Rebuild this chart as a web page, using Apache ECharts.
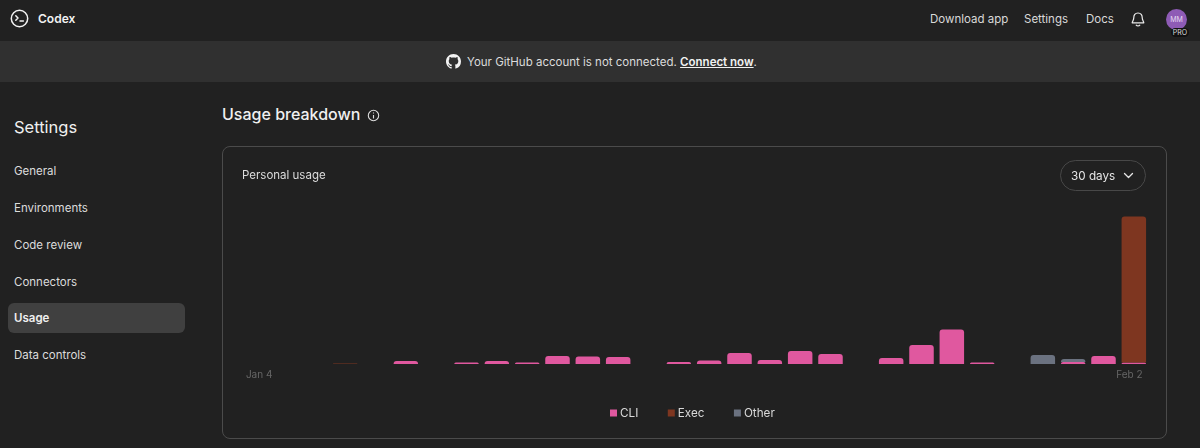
<!DOCTYPE html>
<html>
<head>
<meta charset="utf-8">
<title>Codex usage</title>
<script src="https://cdn.jsdelivr.net/npm/echarts@6/dist/echarts.min.js"></script>
<style>
html, body { margin: 0; width: 1200px; height: 448px; overflow: hidden; background: #212121; color: #ececec; font-family: Inter, "Noto Sans", sans-serif; }
.abs { position: absolute; white-space: nowrap; line-height: 1; }
#banner { position: absolute; left: 0; top: 41px; width: 1200px; height: 41px; background: #303030; }
#card { position: absolute; left: 222px; top: 146px; width: 943px; height: 291px; border: 1px solid #4b4b4b; border-radius: 8px; }
#active { position: absolute; left: 8px; top: 303px; width: 177px; height: 30px; background: #404040; border-radius: 6px; }
#chart { position: absolute; left: 0; top: 0; width: 1200px; height: 448px; }
#range { position: absolute; left: 1060px; top: 160px; width: 84px; height: 29px; border: 1px solid #484848; border-radius: 16px; z-index: 2; }
.nav { font-size: 11.5px; color: #d9d9d9; }
.side { font-size: 11.5px; color: #dcdcdc; left: 14px; }
</style>
</head>
<body>
<div id="banner"></div>
<div id="active"></div>
<div id="card"></div>

<svg class="abs" style="left:10px;top:9px" width="19" height="19" viewBox="0 0 19 19" fill="none" stroke="#f2f2f2" stroke-width="1.5">
	<circle cx="9.5" cy="9.5" r="8.2"/>
	<path d="M5.8 6.8 L8 9 L5.8 11.2 M10 12 H13.4" stroke-linecap="round" stroke-linejoin="round"/>
</svg>
<div class="abs" style="left:38px;top:13px;font-size:12px;font-weight:600;color:#f2f2f2">Codex</div>

<div class="abs nav" style="left:930px;top:14px">Download app</div>
<div class="abs nav" style="left:1024px;top:14px">Settings</div>
<div class="abs nav" style="left:1086px;top:14px">Docs</div>
<svg class="abs" style="left:1131px;top:12px" width="14" height="15" viewBox="0 0 14 15" fill="none" stroke="#ececec" stroke-width="1.2">
	<path d="M7 1 C4 1 2.8 3.2 2.8 5.6 C2.8 8.4 1.2 9.6 1.2 10.8 H12.8 C12.8 9.6 11.2 8.4 11.2 5.6 C11.2 3.2 10 1 7 1 Z" stroke-linejoin="round"/>
	<path d="M5.2 13.2 C6 14.2 8 14.2 8.8 13.2" stroke-linecap="round"/>
</svg>
<div class="abs" style="left:1166px;top:9px;width:21px;height:21px;border-radius:50%;background:#8e5bb5;color:#e6d8f0;font-size:7px;line-height:21px;text-align:center">MM</div>
<div class="abs" style="left:1171px;top:28px;width:18px;height:9px;border-radius:5px;background:#111;color:#ddd;font-size:7px;line-height:9px;text-align:center">PRO</div>

<svg class="abs" style="left:446px;top:54px" width="15" height="15" viewBox="0 0 16 16" fill="#f2f2f2">
	<path d="M8 0C3.58 0 0 3.58 0 8c0 3.54 2.29 6.53 5.47 7.59.4.07.55-.17.55-.38 0-.19-.01-.82-.01-1.49-2.01.37-2.53-.49-2.69-.94-.09-.23-.48-.94-.82-1.13-.28-.15-.68-.52-.01-.53.63-.01 1.08.58 1.23.82.72 1.21 1.87.87 2.33.66.07-.52.28-.87.51-1.07-1.78-.2-3.64-.89-3.64-3.95 0-.87.31-1.59.82-2.15-.08-.2-.36-1.02.08-2.12 0 0 .67-.21 2.2.82.64-.18 1.32-.27 2-.27s1.36.09 2 .27c1.53-1.04 2.2-.82 2.2-.82.44 1.1.16 1.92.08 2.12.51.56.82 1.27.82 2.15 0 3.07-1.87 3.75-3.65 3.95.29.25.54.73.54 1.48 0 1.07-.01 1.93-.01 2.2 0 .21.15.46.55.38A8.01 8.01 0 0 0 16 8c0-4.42-3.58-8-8-8z"/>
</svg>
<div class="abs" style="left:467px;top:57px;font-size:11.5px;color:#dcdcdc">Your GitHub account is not connected. <span style="font-weight:600;color:#f2f2f2;text-decoration:underline">Connect now</span>.</div>

<div class="abs" style="left:14px;top:119px;font-size:16.5px;color:#f0f0f0">Settings</div>
<div class="abs side" style="top:166px">General</div>
<div class="abs side" style="top:203px">Environments</div>
<div class="abs side" style="top:240px">Code review</div>
<div class="abs side" style="top:277px">Connectors</div>
<div class="abs side" style="top:313px;font-weight:600;color:#f0f0f0">Usage</div>
<div class="abs side" style="top:350px">Data controls</div>

<div class="abs" style="left:222px;top:106px;font-size:16px;font-weight:500;color:#f0f0f0">Usage breakdown</div>
<svg class="abs" style="left:367px;top:109px" width="13" height="13" viewBox="0 0 13 13" fill="none" stroke="#dcdcdc" stroke-width="1.1">
	<circle cx="6.5" cy="6.5" r="5.2"/>
	<path d="M6.5 6 V9.4 M6.5 3.6 V4.5"/>
</svg>

<div id="range">
	<div class="abs" style="left:10px;top:10px;font-size:11.7px;color:#e6e6e6">30 days</div>
	<svg class="abs" style="left:62px;top:11px" width="11" height="8" viewBox="0 0 11 8" fill="none" stroke="#e6e6e6" stroke-width="1.3">
		<path d="M1.5 1.5 L5.5 5.5 L9.5 1.5" stroke-linecap="round" stroke-linejoin="round"/>
	</svg>
</div>

<div id="chart"></div>

<script>
const days = [
	'Jan 4', 'Jan 5', 'Jan 6', 'Jan 7', 'Jan 8', 'Jan 9', 'Jan 10', 'Jan 11', 'Jan 12', 'Jan 13',
	'Jan 14', 'Jan 15', 'Jan 16', 'Jan 17', 'Jan 18', 'Jan 19', 'Jan 20', 'Jan 21', 'Jan 22', 'Jan 23',
	'Jan 24', 'Jan 25', 'Jan 26', 'Jan 27', 'Jan 28', 'Jan 29', 'Jan 30', 'Jan 31', 'Feb 1', 'Feb 2'
];
// values, unit is arbitrary (no y axis shown)
const cliUsage = [0, 0, 0, 0, 0, 3, 0, 1.5, 3, 1.5, 8, 7.5, 7, 0, 2, 3.5, 11, 4, 13, 10, 0, 6, 19, 34.5, 1.5, 0, 0, 2, 8, 1.5];
const execUsage = [0, 0, 0, 0.5, 0, 0, 0, 0, 0, 0, 0, 0, 0, 0, 0, 0, 0, 0, 0, 0, 0, 0, 0, 0, 0, 0, 0, 0, 0, 146];
const otherUsage = [0, 0, 0, 0, 0, 0, 0, 0, 0, 0, 0, 0, 0, 0, 0, 0, 0, 0, 0, 0, 0, 0, 0, 0, 0, 0, 9, 3, 0, 0];

const chartInstance = echarts.init(document.getElementById('chart'));

const makeSeries = (name, data, color) => ({
	name: name,
	type: 'bar',
	stack: 'usage',
	data: data,
	barWidth: 24.5,
	itemStyle: { color: color, borderRadius: [3, 3, 0, 0] }
});

chartInstance.setOption({
	animation: false,
	backgroundColor: 'transparent',
	textStyle: { fontFamily: 'Inter' },
	title: {
		text: 'Personal usage',
		left: 237,
		top: 165,
		textStyle: { color: '#dcdcdc', fontSize: 11.5, fontWeight: 400, fontFamily: 'Inter' }
	},
	legend: {
		left: 605,
		top: 402,
		icon: 'rect',
		itemWidth: 7,
		itemHeight: 7,
		itemGap: 29.5,
		textStyle: { color: '#d9d9d9', fontSize: 11.7, padding: [0, 0, 0, -2] }
	},
	tooltip: { trigger: 'axis', axisPointer: { type: 'none' } },
	grid: { left: 239, right: 51, top: 204, bottom: 84 },
	xAxis: {
		type: 'category',
		data: days,
		axisLine: { show: false },
		axisTick: { show: false },
		axisLabel: {
			// only first and last day are labelled
			interval: (index) => index === 0 || index === days.length - 1,
			margin: 6,
			color: '#666666',
			fontSize: 10,
			formatter: (value) => (value === days[0] ? '{first|' + value + '}' : '{last|' + value + '}'),
			rich: {
				first: { color: '#666666', fontSize: 10, padding: [0, 0, 0, 10] },
				last: { color: '#666666', fontSize: 10, padding: [0, 9, 0, 0] }
			}
		}
	},
	yAxis: { type: 'value', min: 0, max: 160, show: false },
	series: [
		makeSeries('CLI', cliUsage, '#e0589f'),
		makeSeries('Exec', execUsage, '#7e3620'),
		makeSeries('Other', otherUsage, '#6b7280')
	]
});
</script>
</body>
</html>
